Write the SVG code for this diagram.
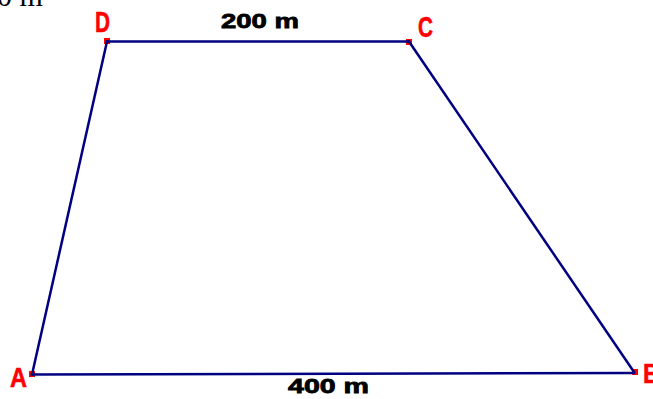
<svg xmlns="http://www.w3.org/2000/svg" width="653" height="399" viewBox="0 0 653 399">
<style>
.edge{stroke:#000080;stroke-width:2.5;fill:none;stroke-linecap:square}
.pt{fill:#ff0000}
.vl{fill:#ff0000;stroke:#ff0000;stroke-width:0.6;font-family:"Liberation Sans",Arial,sans-serif;font-weight:bold}
.len{fill:#000000;stroke:#000000;stroke-width:0.8;font-family:"Liberation Sans",Arial,sans-serif;font-weight:bold;font-size:21px}
.cut{fill:#000000;font-family:"Liberation Serif","Times New Roman",serif;font-size:30px}
</style>
<rect width="653" height="399" fill="#ffffff"/>
<text class="cut" x="-3" y="6">0 m</text>
<g id="vertices">
<g id="A"><rect class="pt" x="29" y="371" width="6" height="6"/><text class="vl" x="10" y="387" font-size="27" textLength="17" lengthAdjust="spacingAndGlyphs">A</text></g>
<g id="B"><rect class="pt" x="632" y="369" width="6" height="6"/><text class="vl" x="643" y="383" font-size="27" textLength="17" lengthAdjust="spacingAndGlyphs">B</text></g>
<g id="C"><rect class="pt" x="406" y="39" width="6" height="6"/><text class="vl" x="418" y="37" font-size="29" textLength="15" lengthAdjust="spacingAndGlyphs">C</text></g>
<g id="D"><rect class="pt" x="104" y="38" width="6" height="6"/><text class="vl" x="95" y="32" font-size="29" textLength="15" lengthAdjust="spacingAndGlyphs">D</text></g>
</g>
<g id="connectors">
<line class="edge" x1="107" y1="41.5" x2="409" y2="41.5"/>
<line class="edge" x1="409" y1="41.5" x2="634" y2="372"/>
<line class="edge" x1="32" y1="374.5" x2="634" y2="373"/>
<line class="edge" x1="107" y1="41.5" x2="32" y2="374.5"/>
</g>
<g id="labels">
<text class="len" x="221" y="28" textLength="78" lengthAdjust="spacingAndGlyphs">200 m</text>
<text class="len" x="288" y="393" textLength="81" lengthAdjust="spacingAndGlyphs">400 m</text>
</g>
</svg>
